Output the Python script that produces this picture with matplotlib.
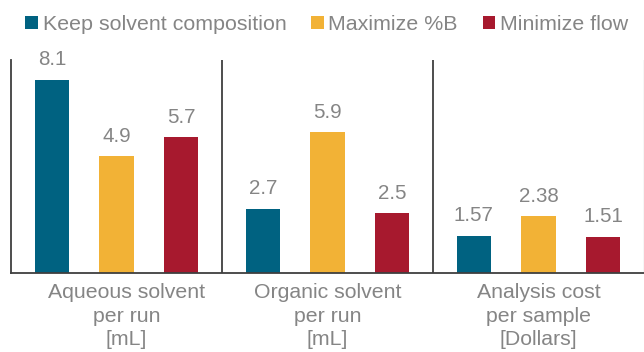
import matplotlib.pyplot as plt
from matplotlib.patches import Patch
from matplotlib.transforms import ScaledTranslation

plt.rcParams['font.family'] = ['Liberation Sans', 'DejaVu Sans']

# Data
categories = ['Aqueous solvent\nper run\n[mL]',
              'Organic solvent\nper run\n[mL]',
              'Analysis cost\nper sample\n[Dollars]']
series_names = ['Keep solvent composition', 'Maximize %B', 'Minimize flow']
keep_comp = [8.1, 2.7, 1.57]
max_b = [4.9, 5.9, 2.38]
min_flow = [5.7, 2.5, 1.51]
labels_keep = ['8.1', '2.7', '1.57']
labels_maxb = ['4.9', '5.9', '2.38']
labels_flow = ['5.7', '2.5', '1.51']

colors = ['#006281', '#F2B236', '#A7192E']
text_grey = '#858585'
line_col = '#3f3f3f'

fig = plt.figure(figsize=(6.44, 3.52), dpi=100)
ax = fig.add_axes([11 / 644, 79 / 352, 633 / 644, 213 / 352])

x = list(range(len(categories)))
offsets = [-0.306, 0.0, 0.306]
width = 0.162
series = [(keep_comp, labels_keep), (max_b, labels_maxb), (min_flow, labels_flow)]

for (vals, labs), off, col in zip(series, offsets, colors):
    xs = [xi + off for xi in x]
    ax.bar(xs, vals, width=width, color=col, zorder=2)
    for xv, v, lab in zip(xs, vals, labs):
        ax.annotate(lab, (xv, v), xytext=(0, 10.5), textcoords='offset points',
                    ha='center', va='baseline', fontsize=14.8, color=text_grey)

ax.set_xlim(-0.5, 2.5)
ax.set_ylim(0, 8.94)

# group separators
for xs in (0.5, 1.5):
    ax.axvline(xs, color=line_col, lw=1.3, zorder=1)
ax.axvline(2.5, color='#d5d5d5', lw=1.0, zorder=1)

for s in ('top', 'right'):
    ax.spines[s].set_visible(False)
ax.spines['left'].set_color(line_col)
ax.spines['bottom'].set_color(line_col)
ax.spines['left'].set_linewidth(1.3)
ax.spines['bottom'].set_linewidth(1.3)

ax.set_yticks([])
ax.set_xticks(x)
ax.set_xticklabels(categories, fontsize=15.3, color=text_grey, linespacing=1.32)
ax.tick_params(axis='x', length=0, pad=7)
# first category label sits a little right of its group centre
first = ax.get_xticklabels()[0]
first.set_transform(first.get_transform() + ScaledTranslation(0.1, 0, fig.dpi_scale_trans))

handles = [Patch(facecolor=c, edgecolor='none') for c in colors]
fig.legend(handles, series_names, loc='center left', bbox_to_anchor=(25 / 644, 1 - 24.5 / 352),
           ncol=3, frameon=False, fontsize=15.4, handlelength=0.6, handleheight=0.6,
           handletextpad=0.22, columnspacing=1.15, borderpad=0, borderaxespad=0,
           labelcolor=text_grey)

fig.savefig('out.png', dpi=100)
